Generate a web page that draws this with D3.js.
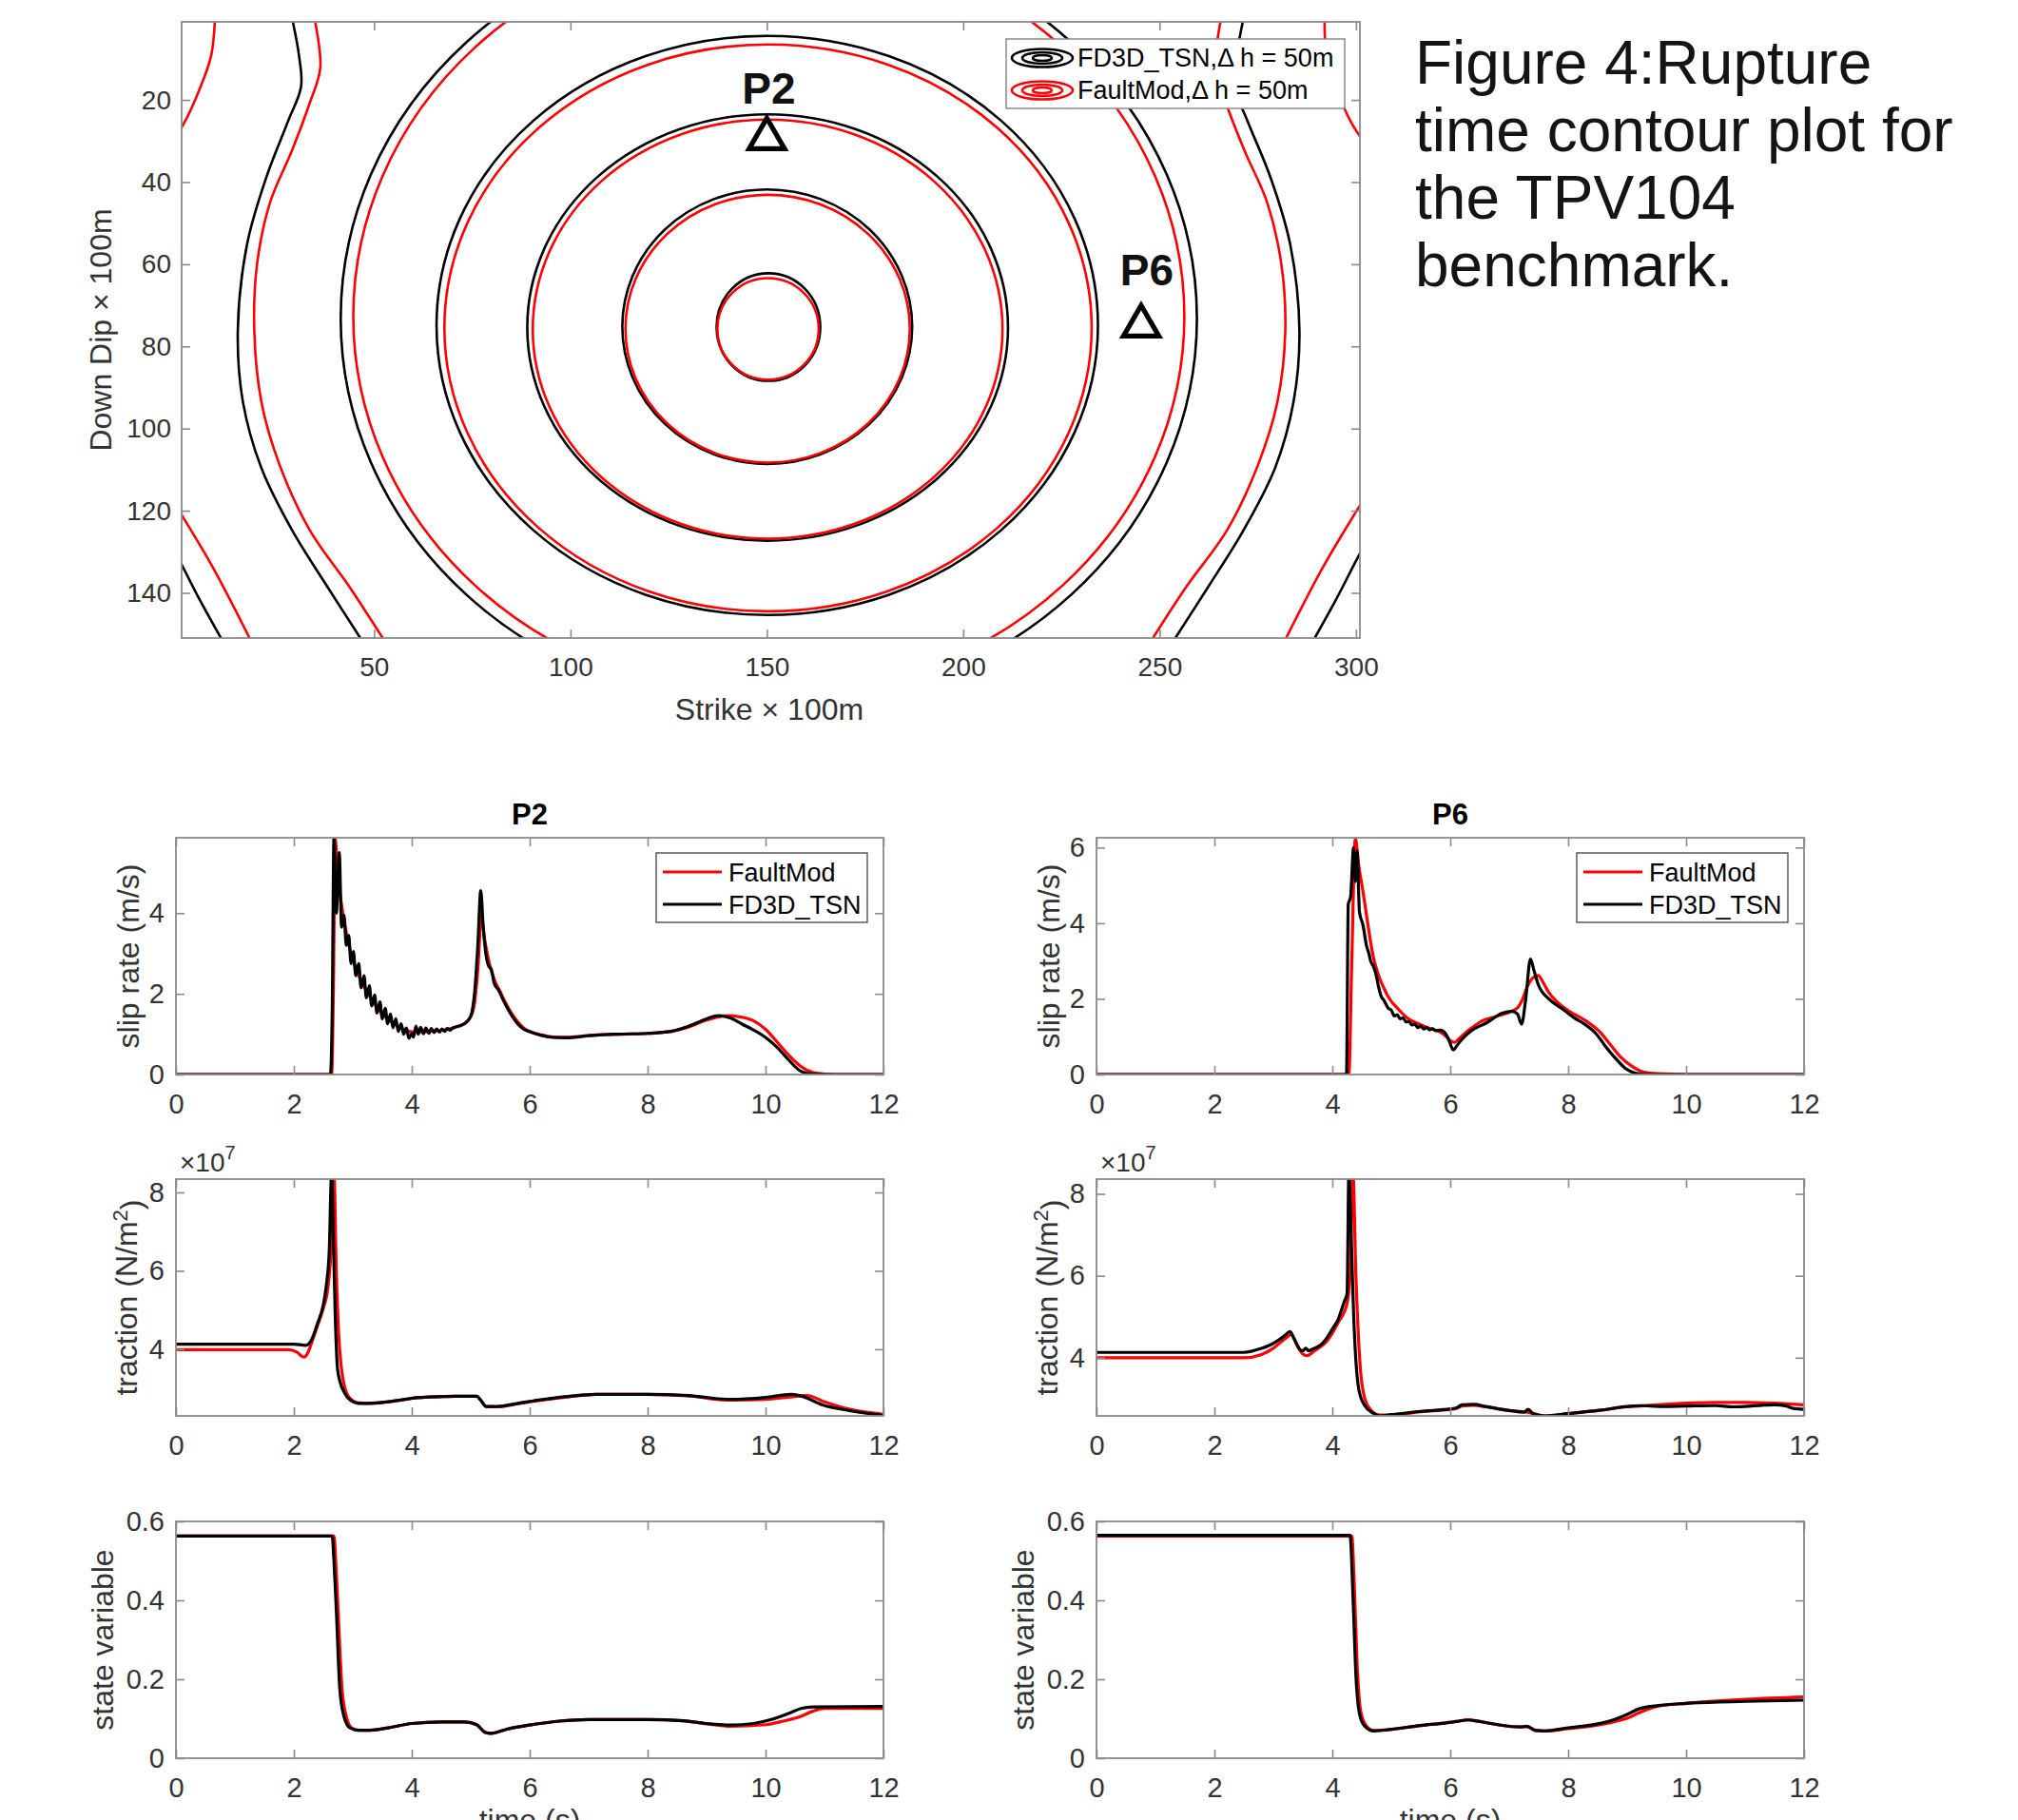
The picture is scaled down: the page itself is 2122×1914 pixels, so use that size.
<!DOCTYPE html>
<html>
<head>
<meta charset="utf-8">
<script src="https://cdn.jsdelivr.net/npm/d3@7"></script>
<style>
body { margin: 0; background: #fff; }
text { font-family: "Liberation Sans", Arial, Helvetica, sans-serif; }
</style>
</head>
<body>
<script>
// ---------- contour data (strike, dip) in units of 100 m ----------
// closed rupture-time rings: [centre strike, centre dip, half width, half height]
const ringsTSN = [[150.4, 75.3, 13.2, 13.1], [150.1, 75.2, 36.9, 33.4], [150.2, 75.4, 61.2, 51.9],
                  [150.1, 74.9, 84.2, 70.5], [150.5, 73.2, 109, 95]];
const ringsFaultMod = [[150.3, 75.75, 12.9, 12.35], [150.2, 75.7, 36.2, 32.6], [150.2, 75.8, 59.8, 51],
                       [150.3, 75.5, 82.4, 69], [150.5, 72.7, 105.8, 92.6]];
// open contours cut by the fault edges
const openTSN = [
    [[29.1, 0], [30.9, 9.3], [31.4, 16.8], [28, 25.4], [22.4, 39.3], [17.6, 55.4], [15.3, 76.2], [16.6, 93.5], [21.3, 109.6], [29.1, 124.7], [38.1, 138.5], [46.5, 151]],
    [[271.4, 0], [269.6, 9.3], [269.1, 16.8], [272.5, 25.4], [278.4, 39.3], [283.3, 55.4], [285.6, 76.2], [284.1, 93.5], [279.4, 109.6], [271.4, 124.7], [262.4, 138.5], [254, 151]],
    [[-1, 129.5], [1.1, 133.3], [5.5, 141.5], [11, 151]],
    [[301.5, 129.5], [299.4, 133.3], [295, 141.5], [289.5, 151]]
];
const openFaultMod = [
    [[34.8, 0], [36.3, 12.2], [33.6, 20.8], [29.1, 32.3], [23.5, 45], [20.2, 60], [19.5, 76.2], [21.3, 93.5], [25.8, 108.5], [33.6, 124.7], [43.7, 138.5], [52.2, 151]],
    [[265.7, 0], [264.2, 12.2], [266.9, 20.8], [271.6, 32.3], [277.4, 45], [281, 60], [282, 76.2], [280, 93.5], [275.2, 108.5], [267.2, 124.7], [256.8, 138.5], [248.3, 151]],
    [[9.5, 0], [8.5, 9.3], [5.6, 17.3], [1.6, 25.7], [-1, 29.5]],
    [[292, 0], [292.5, 9.3], [295, 17.3], [298.9, 25.7], [301.5, 29.5]],
    [[-1, 118], [1.1, 121.2], [9, 133.9], [18.3, 151]],
    [[301.5, 118], [299.4, 121.2], [291.5, 133.9], [282.2, 151]]
];
const stations = [{name: "P2", strike: 150, dip: 29.4}, {name: "P6", strike: 245.3, dip: 75}];
const strikeTicks = [50, 100, 150, 200, 250, 300];
const dipTicks = [20, 40, 60, 80, 100, 120, 140];

// ---------- time series, [time (s), value] ----------
const p2SlipFaultMod = [[0,0],[2.64,0],[2.67,2.0],[2.70,5.87],[2.74,5.0],[2.8,4.3],[2.86,3.75],[2.92,3.3],[3.0,2.85],[3.1,2.45],[3.2,2.15],[3.3,1.9],[3.4,1.68],[3.5,1.5],[3.6,1.37],[3.7,1.26],[3.8,1.17],[3.9,1.1],[4.0,1.06],[4.2,1.06],[4.4,1.08],[4.6,1.12],[4.8,1.2],[4.95,1.32],[5.05,1.65],[5.12,2.6],[5.18,3.94],[5.23,3.4],[5.3,2.85],[5.4,2.35],[5.5,2.05],[5.6,1.75],[5.7,1.5],[5.8,1.3],[5.9,1.15],[6.0,1.07],[6.2,0.98],[6.4,0.93],[6.6,0.92],[6.8,0.94],[7.0,0.97],[7.5,1.0],[8.0,1.02],[8.4,1.07],[8.7,1.18],[9.0,1.35],[9.2,1.43],[9.4,1.46],[9.6,1.42],[9.8,1.33],[10.0,1.12],[10.2,0.8],[10.4,0.47],[10.6,0.2],[10.8,0.05],[11.0,0.01],[11.2,0],[12,0]];
const p2SlipTSN = [[0,0],[2.62,0],[2.65,1.5],[2.68,5.86],[2.72,4.0],[2.77,5.5],[2.81,3.65],[2.85,3.95],[2.89,3.2],[2.93,3.45],[2.97,2.75],[3.01,3.05],[3.05,2.45],[3.1,2.75],[3.14,2.15],[3.19,2.45],[3.23,1.9],[3.28,2.2],[3.32,1.7],[3.37,1.97],[3.41,1.52],[3.46,1.8],[3.5,1.38],[3.55,1.64],[3.59,1.26],[3.64,1.5],[3.68,1.16],[3.73,1.38],[3.77,1.07],[3.82,1.26],[3.86,1.0],[3.91,1.15],[3.95,0.9],[4.0,1.02],[4.03,0.93],[4.07,1.2],[4.11,1.0],[4.15,1.17],[4.2,1.01],[4.24,1.15],[4.29,1.02],[4.33,1.14],[4.38,1.04],[4.42,1.13],[4.47,1.05],[4.51,1.13],[4.56,1.07],[4.6,1.14],[4.65,1.1],[4.7,1.16],[4.8,1.2],[4.9,1.27],[5.0,1.45],[5.07,2.1],[5.12,3.2],[5.17,4.56],[5.21,3.7],[5.26,2.95],[5.3,2.7],[5.35,2.6],[5.4,2.25],[5.47,2.1],[5.55,1.85],[5.62,1.65],[5.7,1.45],[5.8,1.25],[5.9,1.12],[6.0,1.06],[6.2,0.97],[6.4,0.92],[6.6,0.91],[6.8,0.93],[7.0,0.96],[7.5,1.0],[8.0,1.02],[8.4,1.07],[8.7,1.2],[9.0,1.38],[9.2,1.46],[9.4,1.4],[9.6,1.25],[9.8,1.1],[10.0,0.92],[10.2,0.67],[10.4,0.35],[10.6,0.08],[10.8,0.01],[11,0],[12,0]];
const p6SlipFaultMod = [[0,0],[4.28,0],[4.33,3.0],[4.39,6.25],[4.45,5.5],[4.52,4.84],[4.6,4.0],[4.69,3.15],[4.78,2.64],[4.87,2.3],[4.95,2.05],[5.13,1.71],[5.3,1.46],[5.48,1.33],[5.65,1.22],[5.83,1.12],[5.92,1.02],[6.0,0.9],[6.07,0.85],[6.15,0.95],[6.27,1.12],[6.4,1.27],[6.53,1.41],[6.79,1.54],[7.05,1.68],[7.15,1.78],[7.23,2.0],[7.3,2.3],[7.38,2.52],[7.49,2.62],[7.58,2.42],[7.67,2.17],[7.84,1.88],[8.02,1.67],[8.28,1.44],[8.54,1.12],[8.72,0.78],[8.89,0.46],[9.07,0.23],[9.29,0.06],[9.5,0.02],[10,0],[12,0]];
const p6SlipTSN = [[0,0],[4.24,0],[4.27,4.5],[4.31,4.7],[4.36,6.0],[4.39,5.1],[4.42,5.9],[4.46,4.3],[4.52,3.95],[4.58,3.4],[4.62,3.2],[4.65,3.0],[4.7,2.85],[4.74,2.65],[4.78,2.35],[4.82,2.1],[4.88,1.95],[4.95,1.75],[5.0,1.7],[5.05,1.55],[5.1,1.58],[5.15,1.47],[5.2,1.5],[5.25,1.39],[5.3,1.4],[5.35,1.31],[5.4,1.33],[5.45,1.24],[5.5,1.28],[5.55,1.2],[5.6,1.24],[5.65,1.18],[5.7,1.21],[5.75,1.16],[5.83,1.17],[5.92,1.08],[5.98,0.9],[6.05,0.65],[6.12,0.78],[6.18,0.9],[6.35,1.15],[6.62,1.37],[6.88,1.62],[7.05,1.67],[7.14,1.6],[7.21,1.33],[7.28,2.0],[7.36,3.05],[7.42,2.75],[7.49,2.39],[7.67,2.0],[7.89,1.75],[8.1,1.5],[8.28,1.33],[8.46,1.1],[8.63,0.75],[8.79,0.45],[8.98,0.15],[9.15,0.03],[9.3,0],[12,0]];

// traction in units of 1e7 N/m^2
const p2TracFaultMod = [[0,3.99],[1.9,3.99],[2.05,3.93],[2.17,3.8],[2.25,3.95],[2.3,4.16],[2.4,4.6],[2.5,5.05],[2.58,5.6],[2.63,6.5],[2.68,8.5],[2.72,6.0],[2.76,4.4],[2.8,3.6],[2.86,3.05],[2.95,2.75],[3.1,2.63],[3.3,2.62],[3.6,2.66],[3.9,2.72],[4.05,2.76],[4.3,2.78],[4.75,2.8],[5.1,2.8],[5.17,2.7],[5.26,2.54],[5.45,2.53],[5.8,2.61],[6.24,2.71],[6.68,2.79],[7.12,2.85],[8.0,2.85],[8.69,2.81],[9.39,2.7],[10.0,2.72],[10.4,2.78],[10.7,2.82],[11.0,2.66],[11.4,2.48],[12,2.34]];
const p2TracTSN = [[0,4.13],[2.0,4.13],[2.2,4.1],[2.3,4.24],[2.4,4.65],[2.5,5.14],[2.55,5.62],[2.6,6.5],[2.64,8.5],[2.67,6.8],[2.7,4.97],[2.74,3.51],[2.78,3.19],[2.87,2.86],[2.96,2.7],[3.09,2.62],[3.26,2.62],[3.61,2.66],[3.88,2.72],[4.05,2.76],[4.3,2.78],[4.75,2.8],[5.1,2.8],[5.17,2.7],[5.26,2.54],[5.45,2.54],[5.8,2.62],[6.24,2.72],[6.68,2.8],[7.12,2.85],[8.0,2.85],[8.69,2.82],[9.39,2.72],[10.0,2.77],[10.44,2.85],[10.62,2.8],[10.97,2.58],[11.4,2.44],[12,2.31]];
const p6TracFaultMod = [[0,4.0],[2.5,4.0],[2.8,4.08],[3.0,4.23],[3.2,4.47],[3.3,4.56],[3.4,4.31],[3.5,4.09],[3.57,4.05],[3.7,4.17],[3.9,4.39],[4.1,4.86],[4.25,5.33],[4.3,6.0],[4.35,8.5],[4.4,6.0],[4.45,4.31],[4.5,3.38],[4.6,2.83],[4.8,2.6],[5.0,2.6],[5.5,2.68],[6.0,2.74],[6.1,2.76],[6.2,2.82],[6.4,2.84],[6.6,2.8],[7.0,2.71],[7.3,2.67],[7.4,2.64],[7.6,2.58],[8.0,2.63],[8.5,2.71],[9.0,2.8],[9.5,2.85],[10.0,2.89],[10.5,2.91],[11.0,2.91],[11.5,2.89],[12,2.85]];
const p6TracTSN = [[0,4.13],[2.5,4.13],[2.8,4.23],[3.0,4.35],[3.2,4.55],[3.28,4.64],[3.35,4.47],[3.45,4.2],[3.5,4.17],[3.55,4.23],[3.6,4.17],[3.65,4.2],[3.7,4.23],[3.8,4.31],[3.9,4.47],[4.0,4.7],[4.1,4.94],[4.2,5.36],[4.25,5.56],[4.28,8.5],[4.32,7.0],[4.36,5.09],[4.4,3.92],[4.45,3.22],[4.55,2.83],[4.7,2.64],[4.8,2.58],[5.0,2.61],[5.5,2.69],[6.0,2.75],[6.1,2.77],[6.2,2.85],[6.4,2.86],[6.6,2.81],[7.0,2.71],[7.25,2.67],[7.32,2.74],[7.4,2.64],[7.6,2.58],[8.0,2.64],[8.5,2.71],[9.0,2.81],[9.2,2.83],[9.6,2.81],[10.0,2.82],[10.5,2.83],[10.8,2.8],[11.0,2.81],[11.3,2.84],[11.5,2.85],[11.7,2.82],[11.8,2.77],[12,2.74]];

const p2StateFaultMod = [[0,0.563],[2.68,0.563],[2.71,0.5],[2.75,0.376],[2.82,0.17],[2.9,0.1],[2.98,0.077],[3.1,0.071],[3.3,0.071],[3.6,0.077],[4.0,0.088],[4.5,0.092],[4.9,0.092],[5.1,0.085],[5.25,0.065],[5.35,0.063],[5.6,0.073],[6.0,0.084],[6.5,0.094],[7.0,0.098],[8.0,0.098],[8.6,0.095],[9.0,0.087],[9.4,0.081],[10.0,0.085],[10.3,0.094],[10.6,0.106],[10.8,0.119],[11.0,0.126],[12,0.126]];
const p2StateTSN = [[0,0.563],[2.65,0.563],[2.68,0.5],[2.72,0.376],[2.78,0.174],[2.85,0.106],[2.95,0.077],[3.1,0.071],[3.3,0.071],[3.6,0.077],[4.0,0.088],[4.5,0.092],[4.9,0.092],[5.1,0.085],[5.25,0.065],[5.35,0.063],[5.6,0.073],[6.0,0.084],[6.5,0.094],[7.0,0.098],[8.0,0.098],[8.6,0.095],[9.0,0.088],[9.4,0.084],[9.8,0.088],[10.1,0.098],[10.4,0.114],[10.6,0.126],[10.8,0.13],[12,0.131]];
const p6StateFaultMod = [[0,0.563],[4.33,0.563],[4.37,0.45],[4.42,0.24],[4.48,0.12],[4.57,0.083],[4.7,0.07],[5.0,0.073],[5.5,0.083],[5.9,0.089],[6.1,0.093],[6.3,0.097],[6.5,0.093],[6.8,0.085],[7.2,0.079],[7.3,0.08],[7.45,0.07],[7.6,0.069],[8.0,0.075],[8.5,0.084],[8.8,0.093],[9.0,0.101],[9.2,0.115],[9.5,0.131],[10,0.139],[11,0.149],[12,0.155]];
const p6StateTSN = [[0,0.565],[4.3,0.565],[4.35,0.41],[4.4,0.21],[4.46,0.113],[4.55,0.081],[4.7,0.069],[5.0,0.073],[5.5,0.083],[5.9,0.089],[6.1,0.093],[6.3,0.097],[6.5,0.093],[6.8,0.085],[7.2,0.079],[7.3,0.081],[7.45,0.07],[7.6,0.069],[8.0,0.077],[8.5,0.087],[8.8,0.099],[9.0,0.111],[9.2,0.125],[9.5,0.133],[10,0.139],[11,0.144],[12,0.147]];

const timeTicks = [0, 2, 4, 6, 8, 10, 12];
const captionLines = ["Figure 4:Rupture", "time contour plot for", "the TPV104", "benchmark."];

// ---------- page ----------
const widthMax = 2122, heightMax = 1914;
const boxGray = "#8a8a8a", textGray = "#333333";
const svg = d3.select("body").append("svg")
    .attr("width", widthMax)
    .attr("height", heightMax);

function styleAxis(g, fontSize) {
    g.select(".domain").remove();
    g.selectAll(".tick line").attr("stroke", boxGray).attr("stroke-width", 1.6);
    g.selectAll(".tick text").attr("fill", textGray).style("font-size", fontSize + "px");
}

// inward ticks on all four sides, like a matlab "box on" axes
function drawFrame(g, x, y, xTicks, yTicks, xFmt, yFmt, fontSize, xPad, yPad) {
    const [x0, x1] = x.range(), [y0, y1] = y.range();
    const top = Math.min(y0, y1), bottom = Math.max(y0, y1);
    g.append("g").attr("transform", "translate(0," + bottom + ")")
        .call(d3.axisBottom(x).tickValues(xTicks).tickFormat(xFmt).tickSizeInner(-9).tickSizeOuter(0).tickPadding(xPad))
        .call(a => styleAxis(a, fontSize));
    g.append("g").attr("transform", "translate(0," + top + ")")
        .call(d3.axisTop(x).tickValues(xTicks).tickFormat("").tickSizeInner(-9).tickSizeOuter(0))
        .call(a => styleAxis(a, fontSize));
    g.append("g").attr("transform", "translate(" + x0 + ",0)")
        .call(d3.axisLeft(y).tickValues(yTicks).tickFormat(yFmt).tickSizeInner(-9).tickSizeOuter(0).tickPadding(yPad))
        .call(a => styleAxis(a, fontSize));
    g.append("g").attr("transform", "translate(" + x1 + ",0)")
        .call(d3.axisRight(y).tickValues(yTicks).tickFormat("").tickSizeInner(-9).tickSizeOuter(0))
        .call(a => styleAxis(a, fontSize));
    g.append("rect")
        .attr("x", x0).attr("y", top)
        .attr("width", x1 - x0).attr("height", bottom - top)
        .attr("fill", "none").attr("stroke", boxGray).attr("stroke-width", 1.8);
}

// ---------- contour plot ----------
const xC = d3.scaleLinear().domain([1, 301]).range([191, 1430]);
const yC = d3.scaleLinear().domain([1, 151]).range([23, 671]);

svg.append("clipPath").attr("id", "clip-contour")
    .append("rect").attr("x", 191).attr("y", 23).attr("width", 1239).attr("height", 648);

const contourG = svg.append("g").attr("clip-path", "url(#clip-contour)");
const contourLine = d3.line()
    .x(d => xC(d[0]))
    .y(d => yC(d[1]))
    .curve(d3.curveCatmullRom.alpha(0.5));

[[ringsTSN, openTSN, "#000000"], [ringsFaultMod, openFaultMod, "#ff0000"]].forEach(([rings, open, col]) => {
    contourG.selectAll(null)
        .data(rings)
        .enter()
            .append("ellipse")
            .attr("cx", d => xC(d[0]))
            .attr("cy", d => yC(d[1]))
            .attr("rx", d => xC(d[0] + d[2]) - xC(d[0]))
            .attr("ry", d => yC(d[1] + d[3]) - yC(d[1]))
            .attr("fill", "none")
            .attr("stroke", col)
            .attr("stroke-width", 2.6);
    contourG.selectAll(null)
        .data(open)
        .enter()
            .append("path")
            .attr("d", contourLine)
            .attr("fill", "none")
            .attr("stroke", col)
            .attr("stroke-width", 2.6);
});

drawFrame(svg.append("g"), xC, yC, strikeTicks, dipTicks, d => d, d => d, 28, 20, 11);

// station markers
const tri = d3.symbol().type(d3.symbolTriangle).size(600);
const stG = svg.append("g").selectAll("g")
    .data(stations)
    .enter()
        .append("g")
        .attr("transform", d => "translate(" + xC(d.strike) + "," + yC(d.dip) + ")");
stG.append("path")
    .attr("d", tri)
    .attr("fill", "none")
    .attr("stroke", "#000")
    .attr("stroke-width", 5.2)
    .attr("stroke-linejoin", "miter");
stG.append("text")
    .text(d => d.name)
    .attr("x", (d, i) => i == 0 ? 2 : 6)
    .attr("y", (d, i) => i == 0 ? -37 : -43)
    .attr("text-anchor", "middle")
    .style("font-size", "46px")
    .style("font-weight", "bold")
    .attr("fill", "#111");

// legend of contour plot
const cLeg = svg.append("g");
cLeg.append("rect")
    .attr("x", 1058).attr("y", 41).attr("width", 356).attr("height", 73)
    .attr("fill", "#fff").attr("stroke", boxGray).attr("stroke-width", 1.5);
[["FD3D_TSN,\u0394 h = 50m", "#000000", 61], ["FaultMod,\u0394 h = 50m", "#ff0000", 95]].forEach(([label, col, cy]) => {
    [[32, 9.5], [21, 6], [10, 3]].forEach(([rx, ry]) => {
        cLeg.append("ellipse")
            .attr("cx", 1096).attr("cy", cy).attr("rx", rx).attr("ry", ry)
            .attr("fill", "none").attr("stroke", col).attr("stroke-width", 2.6);
    });
    cLeg.append("text")
        .text(label)
        .attr("x", 1133).attr("y", cy + 9)
        .style("font-size", "27px")
        .attr("fill", "#000");
});

svg.append("text")
    .text("Strike \u00d7 100m")
    .attr("x", 809).attr("y", 757)
    .attr("text-anchor", "middle")
    .style("font-size", "32px")
    .attr("fill", textGray);
svg.append("text")
    .text("Down Dip \u00d7 100m")
    .attr("transform", "translate(106,347) rotate(-90)")
    .attr("dy", "0.35em")
    .attr("text-anchor", "middle")
    .style("font-size", "32px")
    .attr("fill", textGray);

// figure caption
svg.append("g").selectAll("text")
    .data(captionLines)
    .enter()
        .append("text")
        .text(d => d)
        .attr("x", 1488)
        .attr("y", (d, i) => 88 + i * 71)
        .style("font-size", "64px")
        .attr("fill", "#141414");

// ---------- time series panels ----------
const colLeft = [185, 1153], panelWidth = 744;
const rowTop = [881, 1240, 1600], panelHeight = 249;

const panels = [
    {col: 0, row: 0, yDomain: [0, 5.87], yTicks: [0, 2, 4], red: p2SlipFaultMod, black: p2SlipTSN, title: "P2", kind: "slip"},
    {col: 1, row: 0, yDomain: [0, 6.26], yTicks: [0, 2, 4, 6], red: p6SlipFaultMod, black: p6SlipTSN, title: "P6", kind: "slip"},
    {col: 0, row: 1, yDomain: [2.3, 8.34], yTicks: [4, 6, 8], red: p2TracFaultMod, black: p2TracTSN, kind: "traction"},
    {col: 1, row: 1, yDomain: [2.58, 8.36], yTicks: [4, 6, 8], red: p6TracFaultMod, black: p6TracTSN, kind: "traction"},
    {col: 0, row: 2, yDomain: [0, 0.6], yTicks: [0, 0.2, 0.4, 0.6], red: p2StateFaultMod, black: p2StateTSN, kind: "state"},
    {col: 1, row: 2, yDomain: [0, 0.6], yTicks: [0, 0.2, 0.4, 0.6], red: p6StateFaultMod, black: p6StateTSN, kind: "state"}
];

panels.forEach((p, idx) => {
    const left = colLeft[p.col], top = rowTop[p.row];
    const x = d3.scaleLinear().domain([0, 12]).range([left, left + panelWidth]);
    const y = d3.scaleLinear().domain(p.yDomain).range([top + panelHeight, top]);
    const g = svg.append("g");

    g.append("clipPath").attr("id", "clip-ts" + idx)
        .append("rect").attr("x", left).attr("y", top).attr("width", panelWidth).attr("height", panelHeight);

    const line = d3.line()
        .x(d => x(d[0]))
        .y(d => y(d[1]))
        .curve(d3.curveMonotoneX);
    const lines = g.append("g").attr("clip-path", "url(#clip-ts" + idx + ")");
    lines.append("path").datum(p.red)
        .attr("d", line).attr("fill", "none").attr("stroke", "#ff0000").attr("stroke-width", 3.2);
    lines.append("path").datum(p.black)
        .attr("d", line).attr("fill", "none").attr("stroke", "#000000").attr("stroke-width", 3.2);

    const yFmt = p.kind == "state" ? d3.format(".1f") : d => d;
    drawFrame(g, x, y, timeTicks, p.yTicks, d => d, d => (d == 0 ? "0" : yFmt(d)), 29, 20, 12);

    const midY = top + panelHeight / 2;
    if (p.kind == "slip") {
        g.append("text")
            .text("slip rate (m/s)")
            .attr("transform", "translate(" + (left - 50) + "," + midY + ") rotate(-90)")
            .attr("dy", "0.35em").attr("text-anchor", "middle")
            .style("font-size", "32px").attr("fill", textGray);
        g.append("text")
            .text(p.title)
            .attr("x", left + panelWidth / 2).attr("y", top - 14)
            .attr("text-anchor", "middle")
            .style("font-size", "31px").style("font-weight", "bold")
            .attr("fill", "#000");

        // legend
        const lx = left + 505, ly = top + 16;
        g.append("rect")
            .attr("x", lx).attr("y", ly).attr("width", 222).attr("height", 73)
            .attr("fill", "#fff").attr("stroke", "#333").attr("stroke-width", 1.2);
        [["FaultMod", "#ff0000"], ["FD3D_TSN", "#000000"]].forEach(([label, col], i) => {
            const ry = ly + 20 + i * 34;
            g.append("line")
                .attr("x1", lx + 7).attr("x2", lx + 69).attr("y1", ry).attr("y2", ry)
                .attr("stroke", col).attr("stroke-width", 3.2);
            g.append("text")
                .text(label)
                .attr("x", lx + 76).attr("y", ry + 10)
                .style("font-size", "27px").attr("fill", "#000");
        });
    } else if (p.kind == "traction") {
        const t = g.append("text")
            .attr("transform", "translate(" + (left - 52) + "," + midY + ") rotate(-90)")
            .attr("dy", "0.35em").attr("text-anchor", "middle")
            .style("font-size", "32px").attr("fill", textGray);
        t.append("tspan").text("traction (N/m");
        t.append("tspan").text("2").attr("dy", "-0.45em").style("font-size", "22px");
        t.append("tspan").text(")").attr("dy", "0.45em");

        const e = g.append("text")
            .attr("x", left + 4).attr("y", top - 8)
            .style("font-size", "28px").attr("fill", textGray);
        e.append("tspan").text("\u00d710");
        e.append("tspan").text("7").attr("dy", "-13").style("font-size", "20px");
    } else {
        g.append("text")
            .text("state variable")
            .attr("transform", "translate(" + (left - 77) + "," + midY + ") rotate(-90)")
            .attr("dy", "0.35em").attr("text-anchor", "middle")
            .style("font-size", "32px").attr("fill", textGray);
        // the x label sits on the lower page edge, as in the source figure
        g.append("text")
            .text("time (s)")
            .attr("x", left + panelWidth / 2).attr("y", 1925)
            .attr("text-anchor", "middle")
            .style("font-size", "32px").attr("fill", textGray);
    }
});
</script>
</body>
</html>
